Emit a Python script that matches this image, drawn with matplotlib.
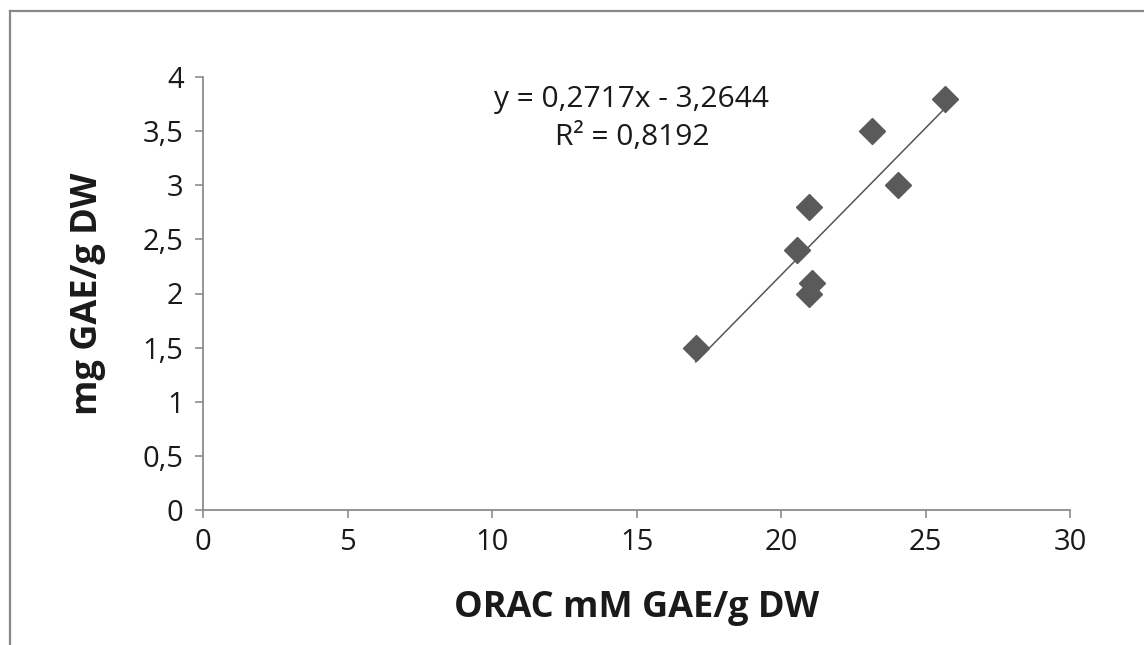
import matplotlib
matplotlib.use("Agg")
import matplotlib.pyplot as plt
from matplotlib.lines import Line2D

orac = [17.05, 20.55, 20.97, 20.97, 21.07, 23.15, 24.05, 25.67]
gae = [1.50, 2.40, 2.80, 2.00, 2.10, 3.50, 3.00, 3.80]
slope = 0.2717
intercept = -3.2644
eq_text = "y = 0,2717x - 3,2644"
r2_text = "R² = 0,8192"
xticks = [0, 5, 10, 15, 20, 25, 30]
yticks = [0, 0.5, 1, 1.5, 2, 2.5, 3, 3.5, 4]
ytick_labels = ["0", "0,5", "1", "1,5", "2", "2,5", "3", "3,5", "4"]

plt.rcParams['font.family'] = ['Open Sans', 'DejaVu Sans']

W, H = 1144, 645
fig = plt.figure(figsize=(W / 100, H / 100), dpi=100)
ax = fig.add_axes([203 / W, 1 - 510 / H, (1070 - 203) / W, (510 - 77) / H])

# border lines (left and top)
fig.add_artist(Line2D([10 / W, 10 / W], [0, 1 - 11 / H], color='#888888', lw=1.6, transform=fig.transFigure))
fig.add_artist(Line2D([10 / W, 1], [1 - 11 / H, 1 - 11 / H], color='#888888', lw=1.6, transform=fig.transFigure))

xs = [min(orac), max(orac)]
ax.plot(xs, [slope * v + intercept for v in xs], color='#555555', lw=1.1, zorder=2)
ax.plot(orac, gae, linestyle='none', marker='D', markersize=13, color='#5a5a5a', zorder=3)

ax.set_xlim(0, 30)
ax.set_ylim(0, 4)
ax.set_xticks(xticks)
ax.set_xticklabels([str(t) for t in xticks])
ax.set_yticks(yticks)
ax.set_yticklabels(ytick_labels)
for s in ['top', 'right']:
    ax.spines[s].set_visible(False)
for s in ['left', 'bottom']:
    ax.spines[s].set_color('#8c8c8c')
    ax.spines[s].set_linewidth(1.3)
ax.tick_params(axis='both', direction='out', length=6, width=1.2, color='#8c8c8c',
               labelsize=21, labelcolor='#1a1a1a')
ax.tick_params(axis='x', pad=7)
ax.tick_params(axis='y', pad=8)

ax.set_xlabel("ORAC mM GAE/g DW", fontsize=26, fontweight='bold', color='#1a1a1a', labelpad=24)
ax.set_ylabel("mg GAE/g DW", fontsize=26, fontweight='bold', color='#1a1a1a', labelpad=26)

ax.text(14.84, 3.79, eq_text, fontsize=21.5, ha='center', va='center', color='#1a1a1a')
ax.text(14.84, 3.44, r2_text, fontsize=21.5, ha='center', va='center', color='#1a1a1a')

fig.savefig("out.png", dpi=100, facecolor='white')
